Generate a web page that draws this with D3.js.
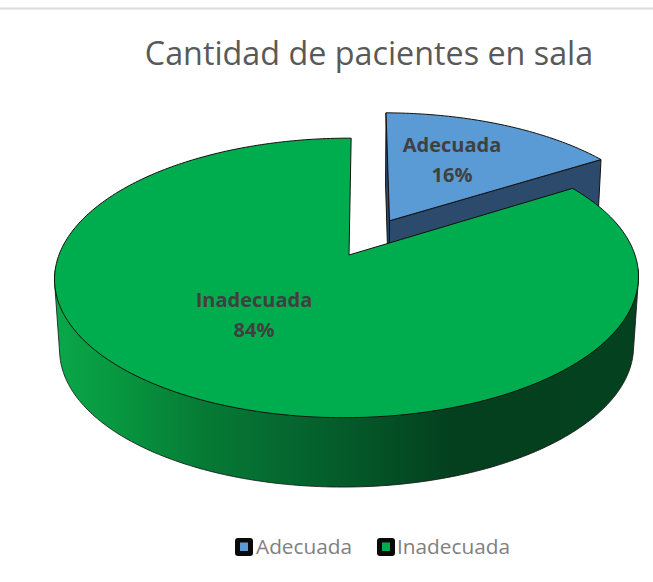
<!DOCTYPE html>
<html><head><meta charset="utf-8">
<script src="https://cdn.jsdelivr.net/npm/d3@7"></script>
<style>html,body{margin:0;padding:0;background:#fff;overflow:hidden}svg{display:block}</style>
</head><body><svg id="c" width="653" height="582"></svg>
<script>
const titleText = "Cantidad de pacientes en sala";
const categories = ["Adecuada", "Inadecuada"];
const values = [16, 84];
const topColors = ["#5B9BD5", "#00AD4E"];
const sideColors = ["#2C4A6B", "#04421f"];
const explode = [0.30, 0];
const gradStops = [[0,"#0aa64a"],[0.1,"#07973f"],[0.25,"#067a35"],[0.46,"#045f2c"],[0.68,"#043f1e"],[1,"#04421f"]];

const svg = d3.select("#c");
const cam = {cx:349, cy:255, rx:288, ry:136, k:0.164, j:0.007, a:-2.5, H:72, q:0.017, s:0.926};
function project(u, v, h) {
  const w = 1 / (1 - cam.k * v + cam.j * u + cam.q * h);
  const ys = h ? cam.s : 1;
  return [cam.cx + (cam.rx * u + cam.a * v) * w, cam.cy + (cam.ry * ys * v + cam.H * h) * w];
}
const arcs = d3.pie().sort(null).startAngle(0).endAngle(2 * Math.PI)(values);
const pathOf = d3.line();
const stroke = "#111";

svg.append("line").attr("x1",0).attr("x2",653).attr("y1",8.5).attr("y2",8.5).attr("stroke","#dcdcdc").attr("stroke-width",2);

const defs = svg.append("defs");
const grad = defs.append("linearGradient").attr("id","sideGrad").attr("gradientUnits","userSpaceOnUse")
  .attr("x1",60).attr("x2",640).attr("y1",0).attr("y2",0);
gradStops.forEach(s => grad.append("stop").attr("offset",s[0]).attr("stop-color",s[1]));

arcs.forEach((d, i) => {
  const mid = (d.startAngle + d.endAngle) / 2;
  const ox = explode[i] * Math.sin(mid), oy = -explode[i] * Math.cos(mid);
  const n = Math.ceil((d.endAngle - d.startAngle) * 60);
  const angles = d3.range(n + 1).map(t => d.startAngle + (d.endAngle - d.startAngle) * t / n);
  const rimAt = (list, h) => list.map(t => project(ox + Math.sin(t), oy - Math.cos(t), h));
  const rim = h => rimAt(angles, h);
  const apex = h => project(ox, oy, h);
  const g = svg.append("g").attr("class", "slice");
  const sideFill = i === 1 ? "url(#sideGrad)" : sideColors[i];
  if (explode[i] > 0) {
    // exploded slice: cut walls plus its short outer wall
    const endT = rim(0)[n], endB = rim(1)[n], startT = rim(0)[0], startB = rim(1)[0];
    g.append("path").attr("d", pathOf([apex(0), endT, endB, apex(1)]) + "Z")
      .attr("fill", sideFill).attr("stroke", stroke).attr("stroke-width", 1);
    g.append("path").attr("d", pathOf([apex(0), startT, startB, apex(1)]) + "Z")
      .attr("fill", sideFill).attr("stroke", stroke).attr("stroke-width", 1);
  } else {
    // swept outer wall: hull of the front half of both rims, so the tangent edges appear
    const front = angles.filter(t => t > Math.PI * 0.53 && t < Math.PI * 1.47);
    const hull = d3.polygonHull(rimAt(front, 0).concat(rimAt(front, 1)));
    g.append("path").attr("d", pathOf(hull) + "Z")
      .attr("fill", sideFill).attr("stroke", stroke).attr("stroke-width", 0.8);
  }
  // top face
  g.append("path").attr("d", pathOf([apex(0)].concat(rim(0))) + "Z")
    .attr("fill", topColors[i]).attr("stroke", stroke).attr("stroke-width", 1).attr("stroke-linejoin","round");
});

// title
svg.append("text").attr("x",369).attr("y",65).attr("text-anchor","middle")
  .attr("font-family","'Open Sans'").attr("font-size",32.3).attr("fill","#595959").text(titleText);

// data labels
const labelAt = [[452,152,182],[254,307,337]];
categories.forEach((c, i) => {
  const t = svg.append("g").attr("font-family","'Open Sans'").attr("font-weight",700).attr("font-size",20)
    .attr("fill","#404040").attr("text-anchor","middle");
  t.append("text").attr("x",labelAt[i][0]).attr("y",labelAt[i][1]).text(c);
  t.append("text").attr("x",labelAt[i][0]).attr("y",labelAt[i][2]).text(values[i] + "%");
});

// legend
const legendX = [235, 377], legendTextX = [256, 397];
categories.forEach((c, i) => {
  svg.append("rect").attr("x",legendX[i]).attr("y",538).attr("width",18).attr("height",18).attr("rx",3)
    .attr("fill","#0a0a0a");
  svg.append("rect").attr("x",legendX[i]+5).attr("y",542.5).attr("width",8).attr("height",8.5)
    .attr("fill",topColors[i]);
  svg.append("text").attr("x",legendTextX[i]).attr("y",554).attr("font-family","'Open Sans'")
    .attr("font-size",20.8).attr("fill","#808080").text(c);
});
</script></body></html>
